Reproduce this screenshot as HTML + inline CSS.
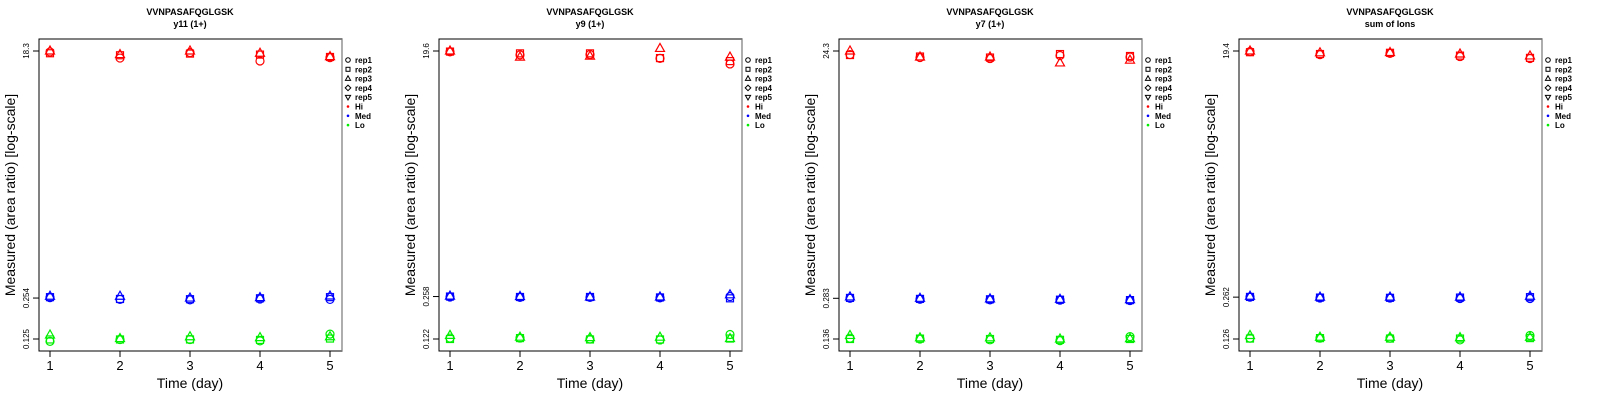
<!DOCTYPE html>
<html><head><meta charset="utf-8"><style>
body{margin:0;background:#fff;}
svg{display:block;font-family:"Liberation Sans",sans-serif;}
</style></head><body>
<svg id="chart" width="1600" height="400" viewBox="0 0 1600 400" xmlns="http://www.w3.org/2000/svg"></svg>
<script>
const days = [1,2,3,4,5];
const panelTitles = ["y11 (1+)","y9 (1+)","y7 (1+)","sum of Ions"];
const peptide = "VVNPASAFQGLGSK";
const tickLabels = [["18.3","0.254","0.125"],["19.6","0.258","0.122"],["24.3","0.283","0.136"],["19.4","0.262","0.126"]];
const tickValues = [[18.3,0.254,0.125],[19.6,0.258,0.122],[24.3,0.283,0.136],[19.4,0.262,0.126]];
// per panel: [rep1, rep2, rep3] arrays over days
const hiVals = [
 [[18.0,16.2,17.8,15.4,16.3],[17.6,17.0,17.5,17.2,16.5],[18.3,17.2,18.3,17.6,16.6]],
 [[19.3,18.3,18.4,17.2,15.6],[19.4,18.8,18.8,17.3,16.4],[19.6,17.6,17.9,20.5,17.6]],
 [[22.8,21.6,21.2,22.4,21.8],[22.6,22.0,21.6,23.0,22.2],[24.3,21.8,21.8,19.6,20.6]],
 [[19.2,18.2,18.6,17.6,17.0],[19.0,18.4,18.8,17.9,17.2],[19.4,18.8,18.9,18.4,17.8]]
];
const medVals = [
 [[0.256,0.248,0.246,0.250,0.248],[0.258,0.250,0.249,0.253,0.258],[0.262,0.262,0.254,0.256,0.263]],
 [[0.256,0.254,0.254,0.252,0.258],[0.258,0.256,0.256,0.254,0.250],[0.260,0.258,0.256,0.256,0.266]],
 [[0.283,0.278,0.275,0.274,0.272],[0.285,0.280,0.278,0.276,0.274],[0.290,0.283,0.280,0.278,0.276]],
 [[0.262,0.258,0.258,0.256,0.256],[0.263,0.260,0.259,0.260,0.262],[0.266,0.262,0.262,0.262,0.266]]
];
const loVals = [
 [[0.120,0.124,0.124,0.121,0.136],[0.124,0.124,0.124,0.123,0.126],[0.134,0.126,0.130,0.128,0.130]],
 [[0.124,0.124,0.122,0.120,0.132],[0.122,0.124,0.121,0.121,0.123],[0.130,0.126,0.125,0.126,0.123]],
 [[0.138,0.136,0.134,0.132,0.142],[0.136,0.137,0.136,0.134,0.136],[0.145,0.139,0.139,0.136,0.137]],
 [[0.128,0.128,0.128,0.124,0.134],[0.127,0.128,0.127,0.127,0.128],[0.134,0.130,0.130,0.129,0.130]]
];
const legendLabels = ["rep1","rep2","rep3","rep4","rep5","Hi","Med","Lo"];
const colors = {Hi:"#ff0000",Med:"#0000ff",Lo:"#00ee00"};

const NS="http://www.w3.org/2000/svg";
const svg=document.getElementById('chart');
function mk(tag,attrs,parent){const e=document.createElementNS(NS,tag);for(const k in attrs)e.setAttribute(k,attrs[k]);(parent||svg).appendChild(e);return e;}
function marker(g,shape,x,y,c){
  let e;
  if(shape===0){e=mk('circle',{cx:x,cy:y,r:4,fill:'none',stroke:c,'stroke-width':1.2},g);}
  else if(shape===1){e=mk('rect',{x:x-3.5,y:y-3.5,width:7,height:7,fill:'none',stroke:c,'stroke-width':1.2},g);}
  else {e=mk('polygon',{points:`${x},${y-5} ${x-4.5},${y+3} ${x+4.5},${y+3}`,fill:'none',stroke:c,'stroke-width':1.2},g);}
  return e;
}
for(let p=0;p<4;p++){
  const ox=p*400;
  const g=mk('g',{transform:`translate(${ox},0)`});
  
  
  const L=39,R=342,T=39,B=351;
  const xs=d=>50+(d-1)*(330-50)/4;
  const lt=Math.log10(tickValues[p][0]), lb=Math.log10(tickValues[p][2]);
  const ys=v=>51+(lt-Math.log10(v))/(lt-lb)*(339-51);
  let t=mk('text',{x:190,y:15,'text-anchor':'middle','font-size':9,'font-weight':'bold'},g);t.textContent=peptide;
  
  t=mk('text',{x:190,y:27,'text-anchor':'middle','font-size':9,'font-weight':'bold'},g);t.textContent=panelTitles[p];
  
  const box=mk('rect',{x:L,y:T,width:R-L,height:B-T,fill:'none',stroke:'#000','stroke-width':1},g);
  
  // right edge gray like reference
  mk('line',{x1:R,y1:T,x2:R,y2:B,stroke:'#777','stroke-width':1.2},g);
  days.forEach(d=>{
    mk('line',{x1:xs(d),y1:B,x2:xs(d),y2:B+6,stroke:'#000'},g);
    const tx=mk('text',{x:xs(d),y:370,'text-anchor':'middle','font-size':13},g);tx.textContent=d;
    
  });
  tickValues[p].forEach((v,i)=>{
    const y=ys(v);
    mk('line',{x1:L-6,y1:y,x2:L,y2:y,stroke:'#000'},g);
    const tx=mk('text',{x:0,y:0,'text-anchor':'middle','font-size':8,transform:`translate(29,${y}) rotate(-90)`},g);tx.textContent=tickLabels[p][i];
    
  });
  t=mk('text',{x:0,y:0,'text-anchor':'middle','font-size':14,transform:'translate(15,195) rotate(-90)'},g);t.textContent="Measured (area ratio) [log-scale]";
  
  t=mk('text',{x:190,y:388,'text-anchor':'middle','font-size':14},g);t.textContent="Time (day)";
  
  [['Hi',hiVals],['Med',medVals],['Lo',loVals]].forEach(([lvl,arr])=>{
    arr[p].forEach((rep,ri)=>{
      rep.forEach((v,di)=>{
        const m=marker(g,ri,xs(days[di]),ys(v),colors[lvl]);
        
        
      });
    });
  });
  // legend
  const lg=mk('g',{},g);
  
  legendLabels.forEach((lab,i)=>{
    const y=60+i*9.3, x=348;
    if(i===0) mk('circle',{cx:x,cy:y,r:2.3,fill:'none',stroke:'#000','stroke-width':1},lg);
    else if(i===1) mk('rect',{x:x-2,y:y-2,width:4,height:4,fill:'none',stroke:'#000','stroke-width':1},lg);
    else if(i===2) mk('polygon',{points:`${x},${y-2.8} ${x-2.6},${y+1.8} ${x+2.6},${y+1.8}`,fill:'none',stroke:'#000','stroke-width':1},lg);
    else if(i===3) mk('polygon',{points:`${x},${y-2.8} ${x+2.8},${y} ${x},${y+2.8} ${x-2.8},${y}`,fill:'none',stroke:'#000','stroke-width':1},lg);
    else if(i===4) mk('polygon',{points:`${x},${y+2.8} ${x-2.6},${y-1.8} ${x+2.6},${y-1.8}`,fill:'none',stroke:'#000','stroke-width':1},lg);
    else mk('circle',{cx:x,cy:y,r:1.3,fill:colors[lab]},lg);
    const tx=mk('text',{x:355,y:y+3,'font-size':8,'font-weight':'bold'},lg);tx.textContent=lab;
    
  });
}
</script>
</body></html>
